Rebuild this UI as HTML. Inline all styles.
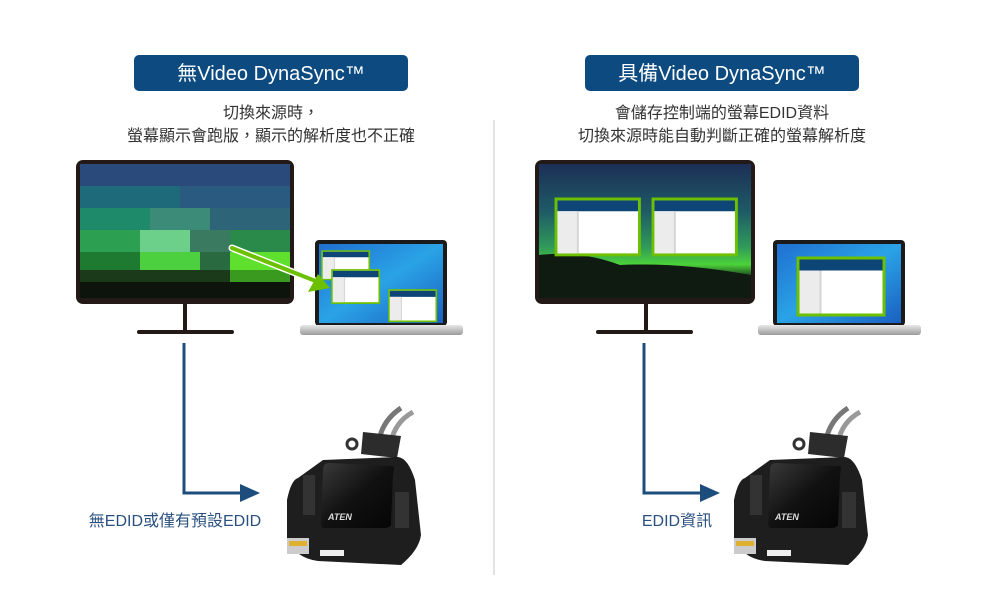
<!DOCTYPE html>
<html><head><meta charset="utf-8"><style>
html,body{margin:0;padding:0;background:#fff;}
svg{display:block;font-family:"Liberation Sans","Noto Sans CJK TC",sans-serif;}
</style></head><body>
<svg width="1000" height="600" viewBox="0 0 1000 600" xmlns="http://www.w3.org/2000/svg">
<defs>
 <linearGradient id="aur2" x1="0" y1="0" x2="0" y2="1">
  <stop offset="0" stop-color="#1c2f55"/><stop offset="0.35" stop-color="#1e5a66"/>
  <stop offset="0.62" stop-color="#2f9a5a"/><stop offset="0.75" stop-color="#4cd23a"/><stop offset="0.85" stop-color="#15301a"/><stop offset="1" stop-color="#0b120c"/>
 </linearGradient>
 <linearGradient id="lap" x1="0" y1="0" x2="1" y2="1">
  <stop offset="0" stop-color="#1f6fd0"/><stop offset="0.5" stop-color="#2aa3e6"/><stop offset="1" stop-color="#1a5fc0"/>
 </linearGradient>
 <linearGradient id="base" x1="0" y1="0" x2="0" y2="1">
  <stop offset="0" stop-color="#e8e8e8"/><stop offset="1" stop-color="#9a9a9a"/>
 </linearGradient>
 <linearGradient id="face" x1="0" y1="0" x2="1" y2="1">
  <stop offset="0" stop-color="#3a3a3a"/><stop offset="0.5" stop-color="#111"/><stop offset="1" stop-color="#050505"/>
 </linearGradient>
 <g id="win">
  <rect x="0" y="0" width="86" height="57" fill="#fff" stroke="#6cc000" stroke-width="3"/>
  <rect x="1.5" y="1.5" width="83" height="11" fill="#0d4577"/>
  <rect x="1.5" y="12.5" width="20" height="43" fill="#ececec"/>
  <rect x="21.5" y="12.5" width="2" height="43" fill="#d4d4d4"/>
 </g>
 <g id="kvm">
  <path d="M96 40 Q100 20 118 8" fill="none" stroke="#777" stroke-width="5"/>
  <path d="M108 42 Q112 22 130 12" fill="none" stroke="#999" stroke-width="5"/>
  <path d="M80 32 L118 36 L114 58 L78 54z" fill="#2c2c2c"/>
  <circle cx="69" cy="44" r="5" fill="none" stroke="#333" stroke-width="3"/>
  <path d="M40 60 L115 57 Q125 58 132 80 L138 135 Q136 150 118 165 L35 161 Q12 158 4 138 L4 100 Q8 80 15 78z" fill="#1e1e1e"/>
  <path d="M46 63 L110 66 Q112 67 110 75 L108 124 Q108 128 100 128 L42 128 Q38 128 38 122 L40 70 Q40 63 46 63z" fill="url(#face)"/>
  <text x="45" y="120" font-size="9" font-weight="bold" fill="#ddd" font-style="italic">ATEN</text>
  <rect x="112" y="92" width="14" height="36" fill="#333"/>
  <rect x="20" y="75" width="12" height="40" fill="#333"/>
  <rect x="4" y="138" width="22" height="16" fill="#ccc"/>
  <rect x="6" y="141" width="18" height="5" fill="#e0b030"/>
  <rect x="37" y="150" width="24" height="6" fill="#eee"/>
 </g>
</defs>

<line x1="494" y1="120" x2="494" y2="575" stroke="#d8d8d8" stroke-width="1.5"/>

<rect x="134" y="55" width="274" height="36" rx="5" fill="#0d4a80"/>
<text x="271" y="80" font-size="20" fill="#fff" text-anchor="middle">無Video DynaSync™</text>
<rect x="585" y="55" width="274" height="36" rx="5" fill="#0d4a80"/>
<text x="722" y="80" font-size="20" fill="#fff" text-anchor="middle">具備Video DynaSync™</text>

<text x="271" y="118" font-size="16" fill="#333" text-anchor="middle">切換來源時，</text>
<text x="271" y="141" font-size="16" fill="#333" text-anchor="middle">螢幕顯示會跑版，顯示的解析度也不正確</text>
<text x="722" y="118" font-size="16" fill="#333" text-anchor="middle">會儲存控制端的螢幕EDID資料</text>
<text x="722" y="141" font-size="16" fill="#333" text-anchor="middle">切換來源時能自動判斷正確的螢幕解析度</text>

<!-- LEFT monitor pixelated -->
<rect x="76" y="160" width="218" height="144" rx="7" fill="#231a18"/>
<g>
 <rect x="80" y="164" width="210" height="134" fill="#24497a"/>
 <rect x="80" y="164" width="210" height="22" fill="#2b4a7c"/>
 <rect x="80" y="186" width="100" height="22" fill="#1f6a7a"/>
 <rect x="180" y="186" width="110" height="22" fill="#2b5a80"/>
 <rect x="80" y="208" width="70" height="22" fill="#1f8a6a"/>
 <rect x="150" y="208" width="60" height="22" fill="#3c8a78"/>
 <rect x="210" y="208" width="80" height="22" fill="#2e6478"/>
 <rect x="80" y="230" width="60" height="22" fill="#2ca050"/>
 <rect x="140" y="230" width="50" height="22" fill="#6ccf8a"/>
 <rect x="190" y="230" width="40" height="22" fill="#3a7a60"/>
 <rect x="230" y="230" width="60" height="22" fill="#2a8a4a"/>
 <rect x="80" y="252" width="60" height="18" fill="#1e7a30"/>
 <rect x="140" y="252" width="60" height="18" fill="#4dd040"/>
 <rect x="200" y="252" width="30" height="18" fill="#2a6a40"/>
 <rect x="230" y="252" width="60" height="18" fill="#5ee02c"/>
 <rect x="80" y="270" width="210" height="12" fill="#1a3a1a"/>
 <rect x="230" y="270" width="60" height="12" fill="#3a9a20"/>
 <rect x="80" y="282" width="210" height="16" fill="#0c140c"/>
</g>
<rect x="183" y="304" width="4" height="27" fill="#231a18"/>
<rect x="137" y="330" width="97" height="4" rx="2" fill="#231a18"/>

<rect x="315" y="240" width="132" height="86" rx="4" fill="#1a1a1a"/>
<rect x="319" y="244" width="124" height="79" fill="url(#lap)"/>
<rect x="300" y="325" width="163" height="10" rx="3" fill="url(#base)"/>
<use href="#win" transform="translate(322,251) scale(0.55,0.5)"/>
<use href="#win" transform="translate(332,270) scale(0.55,0.58)"/>
<use href="#win" transform="translate(389,290) scale(0.55,0.55)"/>
<line x1="232" y1="248" x2="318" y2="282" stroke="#fff" stroke-width="7" stroke-linecap="round"/>
<line x1="232" y1="248" x2="318" y2="282" stroke="#6cc000" stroke-width="4" stroke-linecap="round"/>
<path d="M330 288 L308 292 L318 274z" fill="#6cc000"/>

<path d="M184 343 V493 H246" fill="none" stroke="#1d4d7d" stroke-width="3"/>
<path d="M260 493 L240 484 L240 502z" fill="#1d4d7d"/>
<text x="175" y="526" font-size="16" fill="#2a5080" text-anchor="middle">無EDID或僅有預設EDID</text>
<use href="#kvm" transform="translate(283,400)"/>

<!-- RIGHT monitor -->
<rect x="535" y="160" width="220" height="144" rx="7" fill="#231a18"/>
<rect x="539" y="164" width="212" height="134" fill="url(#aur2)"/>
<path d="M539 255 Q580 250 620 265 Q680 262 751 275 V298 H539z" fill="#0f1a10"/>
<use href="#win" transform="translate(556,199) scale(0.97,0.98)"/>
<use href="#win" transform="translate(653,199) scale(0.97,0.98)"/>
<rect x="644" y="304" width="4" height="26" fill="#231a18"/>
<rect x="596" y="330" width="97" height="4" rx="2" fill="#231a18"/>

<rect x="773" y="240" width="132" height="86" rx="4" fill="#1a1a1a"/>
<rect x="777" y="244" width="124" height="79" fill="url(#lap)"/>
<rect x="758" y="325" width="163" height="10" rx="3" fill="url(#base)"/>
<use href="#win" transform="translate(798,258)"/>

<path d="M644 343 V493 H706" fill="none" stroke="#1d4d7d" stroke-width="3"/>
<path d="M720 493 L700 484 L700 502z" fill="#1d4d7d"/>
<text x="677" y="526" font-size="16" fill="#2a5080" text-anchor="middle">EDID資訊</text>
<use href="#kvm" transform="translate(730,400)"/>
</svg>
</body></html>
